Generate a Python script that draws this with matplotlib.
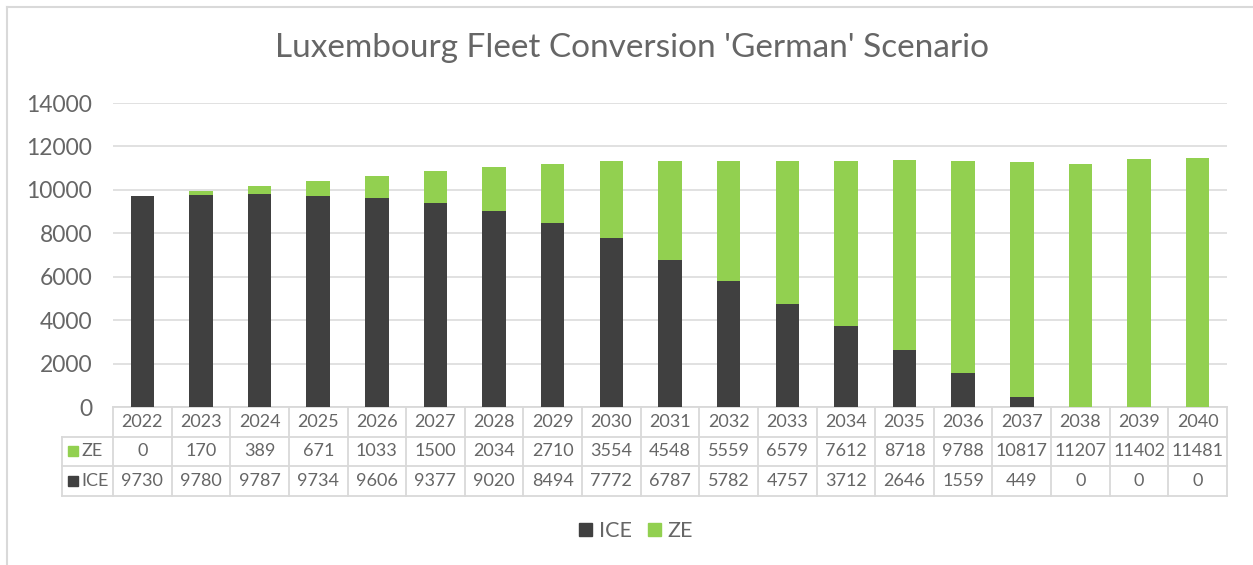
import matplotlib.pyplot as plt
import matplotlib.lines as mlines
import matplotlib.patches as mpatches
from matplotlib.transforms import blended_transform_factory

years = [str(y) for y in range(2022, 2041)]
ze = [0, 170, 389, 671, 1033, 1500, 2034, 2710, 3554, 4548, 5559, 6579,
      7612, 8718, 9788, 10817, 11207, 11402, 11481]
ice = [9730, 9780, 9787, 9734, 9606, 9377, 9020, 8494, 7772, 6787, 5782,
       4757, 3712, 2646, 1559, 449, 0, 0, 0]

ICE_COLOR = '#404040'
ZE_COLOR = '#92D050'
GRID = '#D9D9D9'
TXT = '#666666'
WEIGHT = 'normal'

plt.rcParams['font.family'] = ['Lato', 'DejaVu Sans']

W, H = 1253, 565
fig = plt.figure(figsize=(W / 100, H / 100), dpi=100)


def fx(px):
    return px / W


def fy(py):
    return 1 - py / H


# plot area in pixels
left, right, top, bottom = 113, 1227, 103, 407
ax = fig.add_axes([fx(left), fy(bottom), fx(right) - fx(left), fy(top) - fy(bottom)])

x = list(range(len(years)))
ax.bar(x, ice, width=0.4, color=ICE_COLOR, zorder=3)
ax.bar(x, ze, width=0.4, bottom=ice, color=ZE_COLOR, zorder=3)

ax.set_xlim(-0.5, len(years) - 0.5)
ax.set_ylim(0, 14000)
ax.set_yticks(range(0, 14001, 2000))
ax.tick_params(axis='y', length=0, pad=15, labelsize=16.5, labelcolor=TXT)
for t in ax.get_yticklabels():
    t.set_fontweight(WEIGHT)
ax.set_xticks([])
ax.grid(axis='y', color=GRID, linewidth=1.1, zorder=0)
for s in ax.spines.values():
    s.set_visible(False)

# data table under the axis
ph = bottom - top
rh = 29.5 / ph
n = len(years)
colw = (right - left) / n
lab_x = -0.5 - 51 / colw
tr = blended_transform_factory(ax.transData, ax.transAxes)
kw = dict(color=GRID, linewidth=1.3, clip_on=False, transform=tr)
# horizontal lines
ax.plot([-0.5, n - 0.5], [0, 0], **kw)
for r in (1, 2, 3):
    ax.plot([lab_x, n - 0.5], [-r * rh, -r * rh], **kw)
# vertical lines
for i in range(n + 1):
    ax.plot([i - 0.5, i - 0.5], [0, -3 * rh], **kw)
ax.plot([lab_x, lab_x], [-rh, -3 * rh], **kw)

tkw = dict(transform=tr, ha='center', va='center', fontsize=13,
           color=TXT, fontweight=WEIGHT, clip_on=False)
for i in range(n):
    ax.text(i, -0.5 * rh, years[i], **tkw)
    ax.text(i, -1.5 * rh, str(ze[i]), **tkw)
    ax.text(i, -2.5 * rh, str(ice[i]), **tkw)

# row labels with colour keys
sq = 10
for r, (name, col) in enumerate([('ZE', ZE_COLOR), ('ICE', ICE_COLOR)]):
    yc = -(1.5 + r) * rh
    ax.add_patch(mpatches.Rectangle((lab_x + 6 / colw, yc - sq / 2 / ph), sq / colw, sq / ph,
                                    color=col, transform=tr, clip_on=False))
    ax.text(lab_x + 19 / colw, yc, name, transform=tr, ha='left', va='center',
            fontsize=13, color=TXT, fontweight=WEIGHT, clip_on=False)

fig.suptitle("Luxembourg Fleet Conversion 'German' Scenario", x=fx(632), y=fy(48),
             va='center', fontsize=24, color=TXT, fontweight=WEIGHT)

handles = [mpatches.Patch(color=ICE_COLOR, label='ICE'),
           mpatches.Patch(color=ZE_COLOR, label='ZE')]
leg = fig.legend(handles=handles, loc='center', bbox_to_anchor=(fx(636), fy(531)),
                 ncol=2, frameon=False, fontsize=15.5, handlelength=0.6,
                 handleheight=0.6, handletextpad=0.3, columnspacing=0.75)
for t in leg.get_texts():
    t.set_color(TXT)
    t.set_fontweight(WEIGHT)

# chart border (top and left)
fig.add_artist(mlines.Line2D([fx(7), 1], [fy(7), fy(7)], color=GRID, linewidth=1.5))
fig.add_artist(mlines.Line2D([fx(7), fx(7)], [fy(7), 0], color=GRID, linewidth=1.5))

fig.savefig('out.png', dpi=100)
